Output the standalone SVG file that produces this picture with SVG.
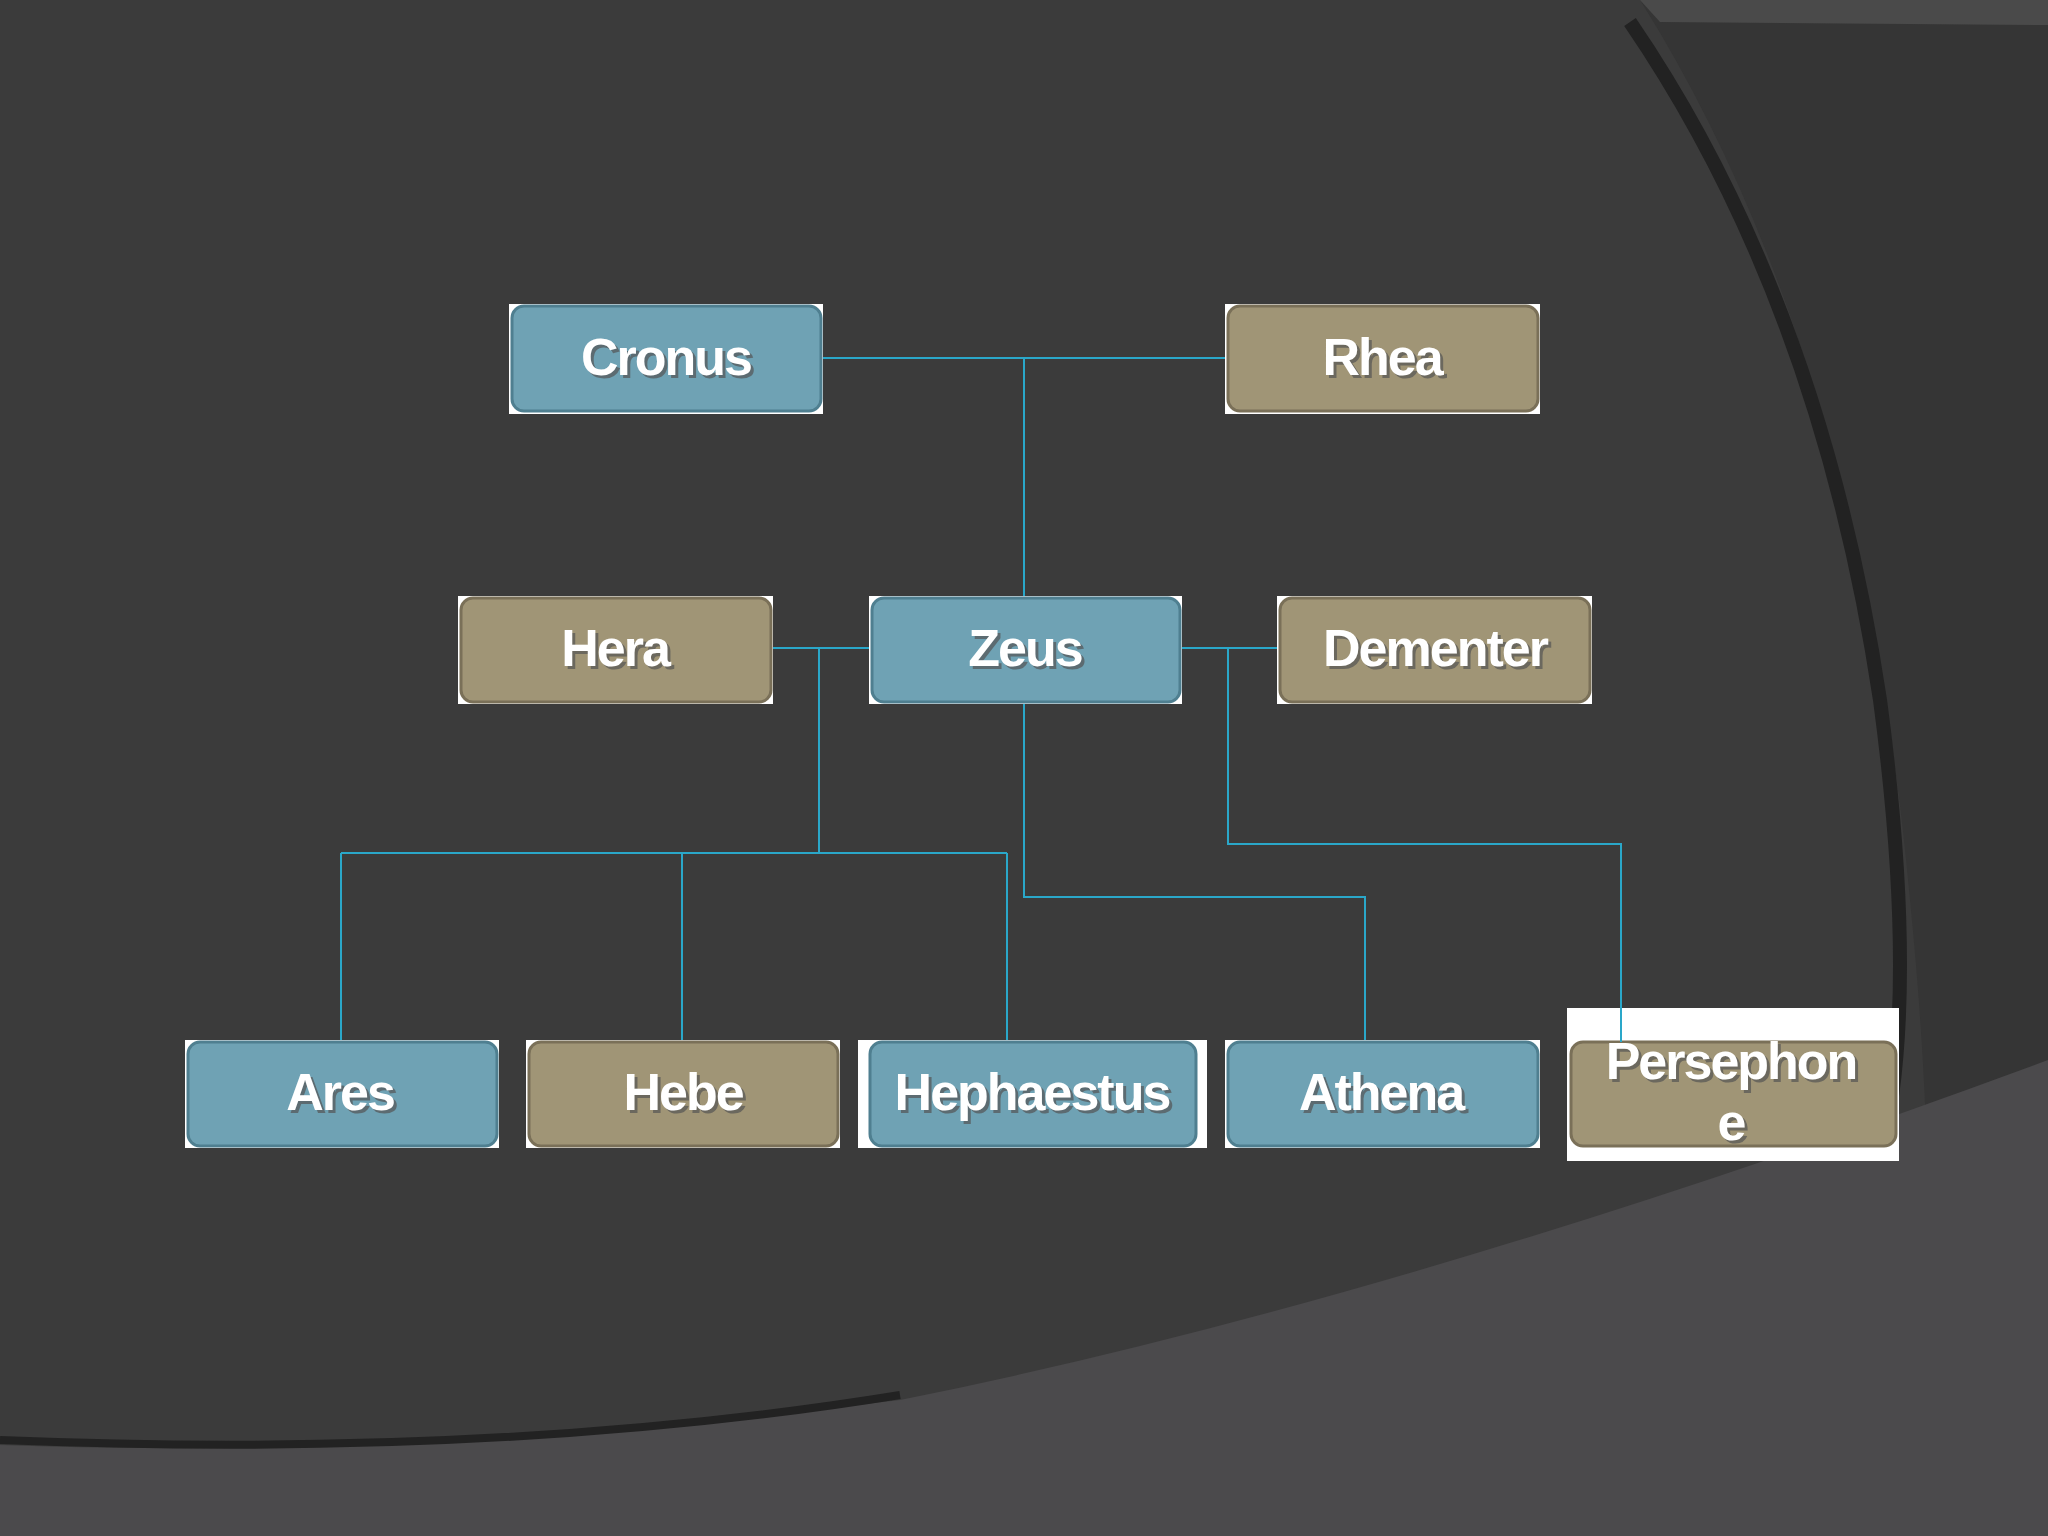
<svg xmlns="http://www.w3.org/2000/svg" width="2048" height="1536" viewBox="0 0 2048 1536">
<defs>
<style>
.bg{fill:#ffffff}
.blue{fill:#6fa2b4;stroke:#4f7f90;stroke-width:3}
.tan{fill:#a09576;stroke:#7a7058;stroke-width:3}
.t{font-family:"Liberation Sans",Arial,sans-serif;font-weight:bold;font-size:52px;fill:#ffffff;text-anchor:middle;letter-spacing:-2px}
.sh{fill:#555;opacity:0.7}
.c{stroke:#2aa7c9;stroke-width:2;fill:none}
</style>
</defs>
<rect width="2048" height="1536" fill="#3b3b3b"/>
<path d="M1640 0 L2048 0 L2048 1536 L1900 1536 Q1950 1300 1910 900 Q1860 350 1640 0 Z" fill="#353535"/>
<path d="M1630 22 Q1820 300 1880 700 Q1920 1000 1880 1160" fill="none" stroke="#222" stroke-width="14"/>
<path d="M1640 0 L2048 0 L2048 25 L1660 22 Z" fill="#4a4a4a"/>
<path d="M0 1445 Q400 1460 900 1400 Q1400 1300 2048 1060 L2048 1536 L0 1536 Z" fill="#4b4a4c"/>
<path d="M0 1440 Q500 1460 900 1395" fill="none" stroke="#222" stroke-width="8"/>
<g id="connectors" class="c">
<path d="M823 358 H1225 M1024 358 V596"/>
<path d="M773 648 H869 M819 648 V853 M341 853 H1007 M341 853 V1040 M682 853 V1040 M1007 853 V1040"/>
<path d="M1182 648 H1277 M1228 648 V844 H1621 V1040"/>
<path d="M1024 704 V897 H1365 V1040"/>
</g>
<g id="cronus"><rect class="bg" x="509" y="304" width="314" height="110"/><rect class="blue" x="512" y="306" width="309" height="105" rx="12"/><text class="t sh" x="669" y="378">Cronus</text><text class="t" x="666" y="375">Cronus</text></g>
<g id="rhea"><rect class="bg" x="1225" y="304" width="315" height="110"/><rect class="tan" x="1228" y="306" width="310" height="105" rx="12"/><text class="t sh" x="1385" y="378">Rhea</text><text class="t" x="1382" y="375">Rhea</text></g>
<g id="hera"><rect class="bg" x="458" y="596" width="315" height="108"/><rect class="tan" x="461" y="598" width="310" height="104" rx="12"/><text class="t sh" x="618" y="669">Hera</text><text class="t" x="615" y="666">Hera</text></g>
<g id="zeus"><rect class="bg" x="869" y="596" width="313" height="108"/><rect class="blue" x="872" y="598" width="308" height="104" rx="12"/><text class="t sh" x="1028" y="669">Zeus</text><text class="t" x="1025" y="666">Zeus</text></g>
<g id="dementer"><rect class="bg" x="1277" y="596" width="315" height="108"/><rect class="tan" x="1280" y="598" width="310" height="104" rx="12"/><text class="t sh" x="1438" y="669">Dementer</text><text class="t" x="1435" y="666">Dementer</text></g>
<g id="ares"><rect class="bg" x="185" y="1040" width="314" height="108"/><rect class="blue" x="188" y="1042" width="309" height="104" rx="12"/><text class="t sh" x="343" y="1113">Ares</text><text class="t" x="340" y="1110">Ares</text></g>
<g id="hebe"><rect class="bg" x="526" y="1040" width="314" height="108"/><rect class="tan" x="529" y="1042" width="309" height="104" rx="12"/><text class="t sh" x="686" y="1113">Hebe</text><text class="t" x="683" y="1110">Hebe</text></g>
<g id="hephaestus"><rect class="bg" x="858" y="1040" width="349" height="108"/><rect class="blue" x="870" y="1042" width="326" height="104" rx="12"/><text class="t sh" x="1035" y="1113">Hephaestus</text><text class="t" x="1032" y="1110">Hephaestus</text></g>
<g id="athena"><rect class="bg" x="1225" y="1040" width="315" height="108"/><rect class="blue" x="1228" y="1042" width="310" height="104" rx="12"/><text class="t sh" x="1384" y="1113">Athena</text><text class="t" x="1381" y="1110">Athena</text></g>
<g id="persephone"><rect class="bg" x="1567" y="1008" width="332" height="153"/><rect class="tan" x="1571" y="1042" width="325" height="104" rx="12"/><line class="c" x1="1621" y1="1008" x2="1621" y2="1042"/><text class="t sh" x="1734" y="1082">Persephon</text><text class="t" x="1731" y="1079">Persephon</text><text class="t sh" x="1734" y="1143">e</text><text class="t" x="1731" y="1140">e</text></g>
</svg>
